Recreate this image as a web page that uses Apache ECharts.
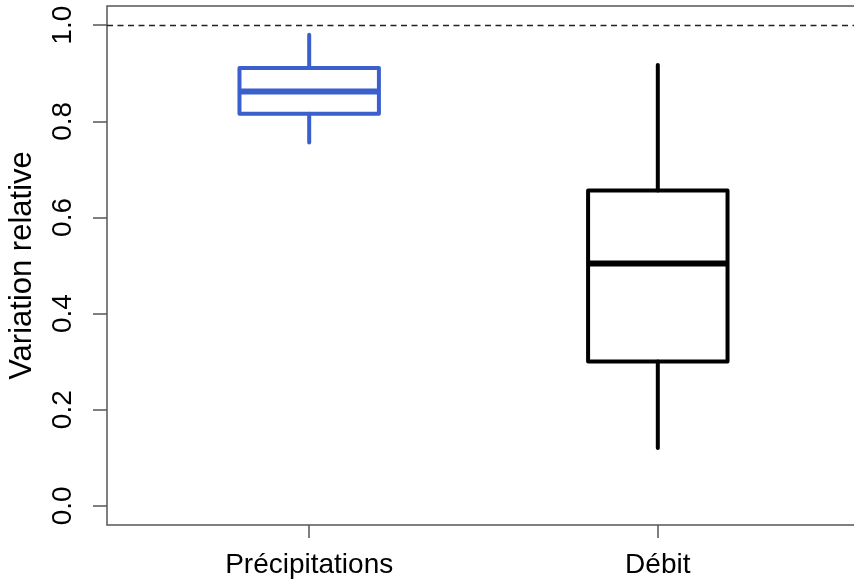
<!DOCTYPE html>
<html>
<head>
<meta charset="utf-8">
<script src="https://cdn.jsdelivr.net/npm/echarts@6/dist/echarts.min.js"></script>
<style>
html,body{margin:0;padding:0;background:#fff;}
#chart{width:854px;height:582px;}
</style>
</head>
<body>
<div id="chart"></div>
<script>
const categories = ['Précipitations', 'Débit'];
const positions = [1, 2];
const whiskerLow = [0.756, 0.120];
const q1 = [0.816, 0.300];
const median = [0.862, 0.504];
const q3 = [0.911, 0.656];
const whiskerHigh = [0.980, 0.917];
const yTicks = [0, 0.2, 0.4, 0.6, 0.8, 1.0];
const refLine = 1.0;
const boxColors = ['#3b5fcd', '#000000'];
const boxWidth = 0.4;

const data = positions.map((p, i) => [p, whiskerLow[i], q1[i], median[i], q3[i], whiskerHigh[i], i]);

const chart = echarts.init(document.getElementById('chart'), null, {renderer: 'canvas'});
const font = 'Liberation Sans, Arial, Helvetica, sans-serif';

function renderItem(params, api) {
  const x = api.value(0);
  const idx = api.value(6);
  const col = boxColors[idx];
  const pLow = api.coord([x, api.value(1)]);
  const pQ1L = api.coord([x - boxWidth / 2, api.value(2)]);
  const pQ1R = api.coord([x + boxWidth / 2, api.value(2)]);
  const pMedL = api.coord([x - boxWidth / 2, api.value(3)]);
  const pMedR = api.coord([x + boxWidth / 2, api.value(3)]);
  const pQ3L = api.coord([x - boxWidth / 2, api.value(4)]);
  const pHigh = api.coord([x, api.value(5)]);
  const pQ1 = api.coord([x, api.value(2)]);
  const pQ3 = api.coord([x, api.value(4)]);
  const lw = 4;
  return {
    type: 'group',
    children: [
      {type: 'line', shape: {x1: pLow[0], y1: pLow[1], x2: pQ1[0], y2: pQ1[1]},
        style: {stroke: col, lineWidth: lw, lineCap: 'round'}},
      {type: 'line', shape: {x1: pQ3[0], y1: pQ3[1], x2: pHigh[0], y2: pHigh[1]},
        style: {stroke: col, lineWidth: lw, lineCap: 'round'}},
      {type: 'rect', shape: {x: pQ3L[0], y: pQ3L[1], width: pQ1R[0] - pQ1L[0], height: pQ1L[1] - pQ3L[1]},
        style: {stroke: col, lineWidth: lw, fill: 'none', lineJoin: 'round'}},
      {type: 'line', shape: {x1: pMedL[0], y1: pMedL[1], x2: pMedR[0], y2: pMedR[1]},
        style: {stroke: col, lineWidth: 6, lineCap: 'butt'}}
    ]
  };
}

chart.setOption({
  animation: false,
  backgroundColor: '#ffffff',
  grid: {left: 107, top: 6, width: 753, height: 519, show: true, borderColor: '#555', borderWidth: 1.5,
    backgroundColor: 'transparent', containLabel: false, outerBoundsMode: 'none'},
  xAxis: {
    type: 'value', min: 0.42, max: 2.58,
    splitLine: {show: false},
    axisLine: {show: false, onZero: false},
    axisTick: {show: true, customValues: positions, length: 13, lineStyle: {color: '#555', width: 1.5}},
    axisLabel: {customValues: positions, margin: 26, color: '#000', fontSize: 28, fontFamily: font,
      formatter: function (v) { const i = positions.indexOf(v); return i >= 0 ? categories[i] : ''; }}
  },
  yAxis: {
    type: 'value', min: -0.04, max: 1.04,
    name: 'Variation relative', nameLocation: 'middle', nameRotate: 90, nameGap: 69,
    nameTextStyle: {color: '#000', fontSize: 31, fontFamily: font},
    splitLine: {show: false},
    axisLine: {show: false, onZero: false},
    axisTick: {show: true, customValues: yTicks, length: 14, lineStyle: {color: '#555', width: 1.5}},
    axisLabel: {customValues: yTicks, rotate: 90, margin: 30, color: '#000', fontSize: 28, fontFamily: font,
      formatter: function (v) { return v.toFixed(1); }}
  },
  series: [{
    type: 'custom',
    renderItem: renderItem,
    data: data,
    clip: false,
    encode: {x: 0, y: [1, 2, 3, 4, 5]},
    markLine: {
      silent: true, symbol: 'none', label: {show: false},
      lineStyle: {color: '#222', width: 1.3, type: [6, 4.5]},
      data: [{yAxis: refLine}]
    }
  }]
});
</script>
</body>
</html>
